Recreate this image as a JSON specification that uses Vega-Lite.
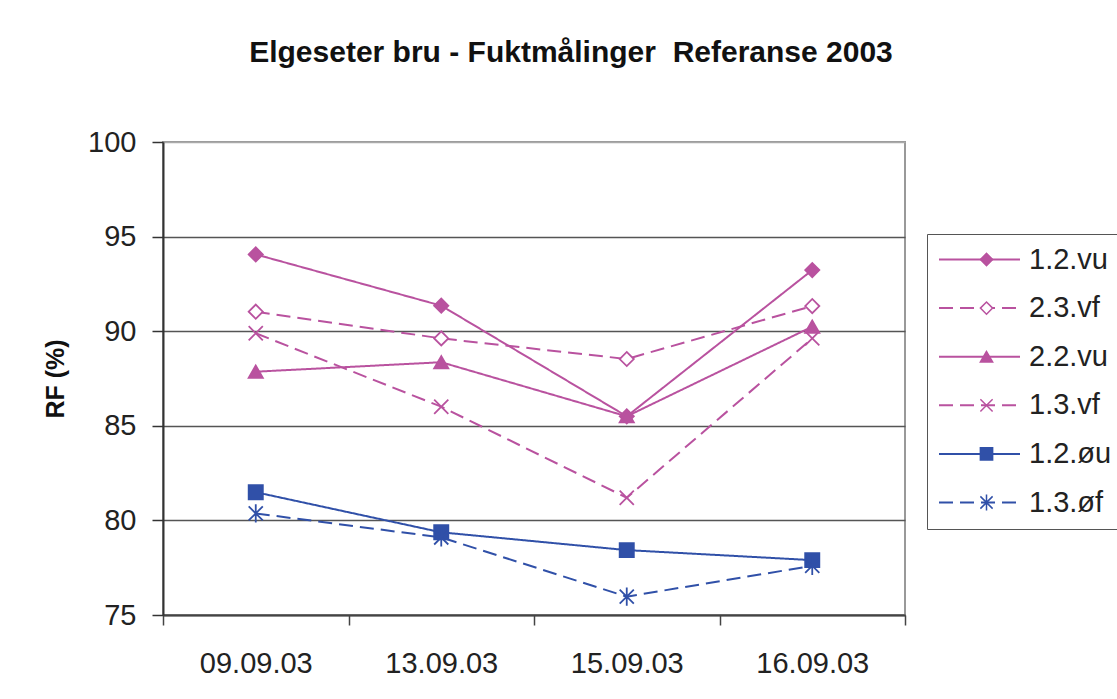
{
  "$schema": "https://vega.github.io/schema/vega-lite/v6.json",
  "width": 742,
  "height": 473,
  "autosize": {"type": "none"},
  "padding": {"left": 163, "top": 142, "right": 212, "bottom": 84},
  "background": "white",
  "title": {
    "text": "Elgeseter bru - Fuktmålinger\u00a0 Referanse 2003",
    "font": "Liberation Sans",
    "fontSize": 30,
    "fontWeight": "bold",
    "color": "#111111",
    "anchor": "middle",
    "dx": 37,
    "offset": 60
  },
  "data": {
    "values": [
      {"dato": "09.09.03", "serie": "1.2.vu", "RF": 94.06},
      {"dato": "13.09.03", "serie": "1.2.vu", "RF": 91.35},
      {"dato": "15.09.03", "serie": "1.2.vu", "RF": 85.5},
      {"dato": "16.09.03", "serie": "1.2.vu", "RF": 93.23},
      {"dato": "09.09.03", "serie": "2.3.vf", "RF": 91.03},
      {"dato": "13.09.03", "serie": "2.3.vf", "RF": 89.62},
      {"dato": "15.09.03", "serie": "2.3.vf", "RF": 88.53},
      {"dato": "16.09.03", "serie": "2.3.vf", "RF": 91.33},
      {"dato": "09.09.03", "serie": "2.2.vu", "RF": 87.86},
      {"dato": "13.09.03", "serie": "2.2.vu", "RF": 88.36},
      {"dato": "15.09.03", "serie": "2.2.vu", "RF": 85.5},
      {"dato": "16.09.03", "serie": "2.2.vu", "RF": 90.24},
      {"dato": "09.09.03", "serie": "1.3.vf", "RF": 89.89},
      {"dato": "13.09.03", "serie": "1.3.vf", "RF": 86.01},
      {"dato": "15.09.03", "serie": "1.3.vf", "RF": 81.2},
      {"dato": "16.09.03", "serie": "1.3.vf", "RF": 89.62},
      {"dato": "09.09.03", "serie": "1.2.øu", "RF": 81.49},
      {"dato": "13.09.03", "serie": "1.2.øu", "RF": 79.37},
      {"dato": "15.09.03", "serie": "1.2.øu", "RF": 78.43},
      {"dato": "16.09.03", "serie": "1.2.øu", "RF": 77.9},
      {"dato": "09.09.03", "serie": "1.3.øf", "RF": 80.37},
      {"dato": "13.09.03", "serie": "1.3.øf", "RF": 79.1},
      {"dato": "15.09.03", "serie": "1.3.øf", "RF": 75.97},
      {"dato": "16.09.03", "serie": "1.3.øf", "RF": 77.6}
    ]
  },
  "encoding": {
    "x": {
      "field": "dato",
      "type": "nominal",
      "sort": null,
      "bandPosition": 0.5,
      "scale": {"type": "band", "paddingInner": 0, "paddingOuter": 0},
      "axis": {
        "title": null,
        "labelAngle": 0,
        "tickBand": "extent",
        "grid": false,
        "labelFont": "Liberation Sans",
        "labelFontSize": 29,
        "labelColor": "#222222",
        "labelPadding": 24,
        "tickSize": 10,
        "tickWidth": 1.5,
        "tickColor": "#444444",
        "domainColor": "#444444",
        "domainWidth": 2
      }
    },
    "y": {
      "field": "RF",
      "type": "quantitative",
      "scale": {"domain": [75, 100], "nice": false, "zero": false},
      "axis": {
        "title": "RF (%)",
        "values": [75, 80, 85, 90, 95, 100],
        "grid": true,
        "gridColor": {"condition": {"test": "datum.value == 100", "value": "#aaaaaa"}, "value": "#555555"},
        "gridWidth": 1.5,
        "domainColor": "#333333",
        "domainWidth": 2,
        "tickColor": "#333333",
        "tickSize": 11,
        "tickWidth": 1.5,
        "labelFont": "Liberation Sans",
        "labelFontSize": 29,
        "labelColor": "#222222",
        "labelPadding": 16,
        "titleFont": "Liberation Sans",
        "titleFontSize": 25,
        "titleFontWeight": "bold",
        "titleColor": "#111111",
        "titlePadding": 19
      }
    }
  },
  "layer": [
    {
      "mark": {"type": "line", "strokeWidth": 2},
      "encoding": {
        "color": {
          "field": "serie",
          "type": "nominal",
          "scale": {
            "domain": ["1.2.vu", "2.3.vf", "2.2.vu", "1.3.vf", "1.2.øu", "1.3.øf"],
            "range": ["#B9529F", "#B9529F", "#B9529F", "#B9529F", "#3050A8", "#3050A8"]
          },
          "legend": {
            "title": null,
            "orient": "none",
            "legendX": 764,
            "legendY": 92,
            "symbolType": "stroke",
            "symbolSize": 6561,
            "symbolStrokeWidth": 2,
            "clipHeight": 29,
            "labelFont": "Liberation Sans",
            "labelFontSize": 29,
            "labelColor": "#222222",
            "labelOffset": 8,
            "padding": 11,
            "rowPadding": 18.6,
            "strokeColor": "#555555",
            "fillColor": "white"
          }
        },
        "strokeDash": {
          "field": "serie",
          "type": "nominal",
          "scale": {
            "domain": ["1.2.vu", "2.3.vf", "2.2.vu", "1.3.vf", "1.2.øu", "1.3.øf"],
            "range": [[1, 0], [14, 7], [1, 0], [14, 7], [1, 0], [14, 7]]
          }
        }
      }
    },
    {
      "mark": {"type": "point", "opacity": 1, "strokeWidth": 1.8, "size": 200},
      "encoding": {
        "stroke": {
          "field": "serie",
          "type": "nominal",
          "sort": null,
          "scale": {"range": ["#B9529F", "#B9529F", "#B9529F", "#B9529F", "#3050A8", "#3050A8"]},
          "legend": {
            "title": null,
            "orient": "none",
            "legendX": 764,
            "legendY": 92,
            "symbolSize": 150,
            "symbolStrokeWidth": 1.5,
            "symbolOffset": 34,
            "clipHeight": 29,
            "labelFont": "Liberation Sans",
            "labelFontSize": 29,
            "labelExpr": "''",
            "labelOffset": 8,
            "padding": 11,
            "rowPadding": 18.6
          }
        },
        "fill": {
          "field": "serie",
          "type": "nominal",
          "sort": null,
          "scale": {"range": ["#B9529F", "white", "#B9529F", "transparent", "#3050A8", "transparent"]}
        },
        "shape": {
          "field": "serie",
          "type": "nominal",
          "sort": null,
          "scale": {"range": ["diamond", "diamond", "triangle-up", "M-1,-1L1,1M-1,1L1,-1", "square", "M-1,-1L1,1M-1,1L1,-1M0,-1.3L0,1.3"]}
        }
      }
    }
  ],
  "config": {
    "view": {"stroke": "#999999", "strokeWidth": 2}
  }
}
